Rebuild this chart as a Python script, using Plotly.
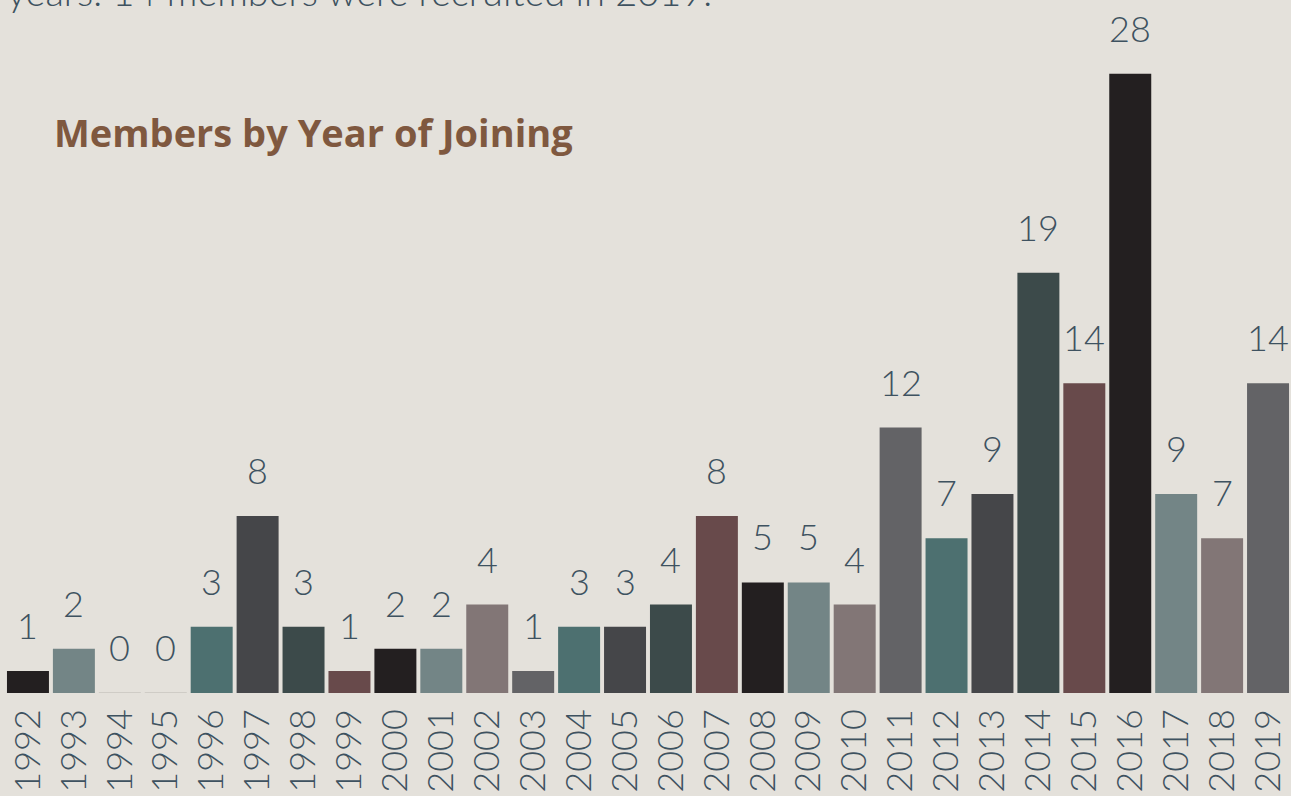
import plotly.graph_objects as go

years = [str(y) for y in range(1992, 2020)]
members = [1, 2, 0, 0, 3, 8, 3, 1, 2, 2, 4, 1, 3, 3, 4, 8, 5, 5, 4, 12, 7, 9, 19, 14, 28, 9, 7, 14]
palette = ["#231f20", "#738586", "#827676", "#636366", "#4d7070", "#454649", "#3c4a4a", "#684a4b"]
title_text = "Members by Year of Joining"
top_text = "years. 14 members were recruited in 2019."

BG = "#e4e1db"
TXT = "#3e5260"
FONT = "Lato"

colors = [palette[i % len(palette)] for i in range(len(years))]

fig = go.Figure()
fig.add_trace(go.Bar(
    x=years, y=members,
    marker=dict(color=colors, line=dict(width=0)),
    hoverinfo="x+y",
))

annotations = []
for i, v in enumerate(members):
    annotations.append(dict(
        x=i, y=v, xref="x", yref="y", text=str(v), showarrow=False,
        xanchor="center", yanchor="middle", yshift=46,
        font=dict(family=FONT, size=36, color=TXT, weight=300),
    ))

annotations.append(dict(
    x=0, y=1, xref="paper", yref="paper", text=top_text, showarrow=False,
    xanchor="left", yanchor="bottom", yshift=-16, xshift=0,
    font=dict(family=FONT, size=38, color=TXT, weight=300),
))
annotations.append(dict(
    x=0, y=1 - 132 / 693, xref="paper", yref="paper", text="<b>" + title_text + "</b>",
    showarrow=False, xanchor="left", yanchor="middle", xshift=47,
    font=dict(family="Open Sans", size=38, color="#7f583f"),
))

shapes = []
half = (1 - 0.086) / 2
for i, v in enumerate(members):
    if v == 0:
        shapes.append(dict(type="line", xref="x", yref="y", x0=i - half, x1=i + half,
                           y0=0, y1=0, line=dict(color="#c8c4bf", width=1.5)))

fig.update_layout(
    width=1291, height=796,
    paper_bgcolor=BG, plot_bgcolor=BG,
    margin=dict(l=5, r=0, t=0, b=103),
    bargap=0.086,
    showlegend=False,
    annotations=annotations,
    shapes=shapes,
    xaxis=dict(
        type="category", tickangle=-90, showgrid=False, zeroline=False, showline=False,
        ticks="", tickfont=dict(family=FONT, size=36, color=TXT, weight=300),
        ticklabelstandoff=8,
        range=[-0.5, len(years) - 0.5], fixedrange=True,
    ),
    yaxis=dict(
        range=[0, 693 / 22.12], visible=False, showgrid=False, zeroline=False, fixedrange=True,
    ),
)

fig.write_html(
    "out.html",
    config={"displayModeBar": False},
    post_script="document.body.style.margin='0';document.body.style.overflow='hidden';document.body.style.background='#e4e1db';",
)
